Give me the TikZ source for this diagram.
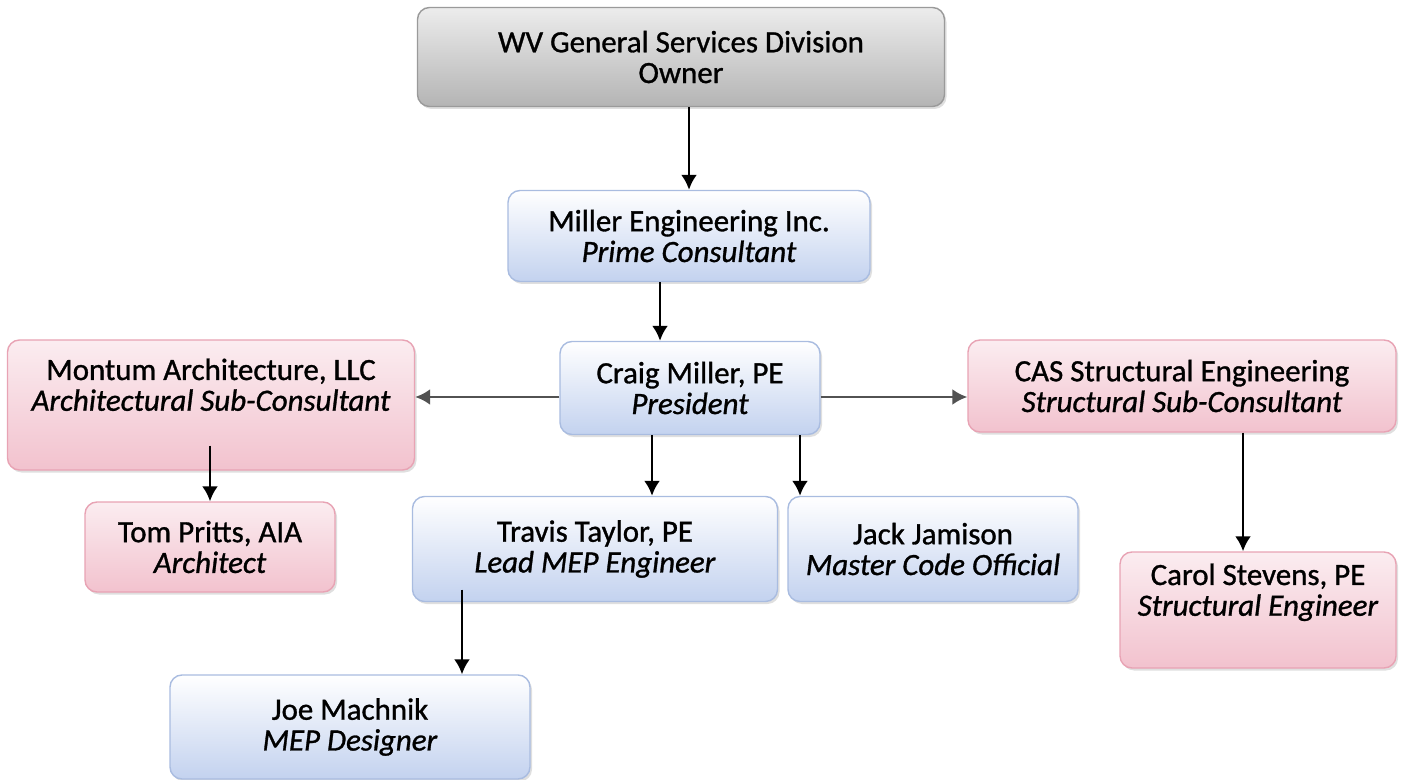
\documentclass[tikz,border=0pt]{standalone}
\usepackage{fontspec}
\setmainfont{Carlito}[FakeBold=1]
\usetikzlibrary{arrows.meta,shadows}
\definecolor{blueedge}{HTML}{A9BCE0}
\definecolor{bluebot}{HTML}{C3D2EF}
\definecolor{pinkedge}{HTML}{E8A3B4}
\definecolor{pinkbot}{HTML}{F2C2CE}
\definecolor{grayedge}{HTML}{9A9A9A}
\definecolor{graybot}{HTML}{B4B4B4}

\begin{document}
\begin{tikzpicture}[
    box/.style={rounded corners=0.24cm, align=center, line width=0.8pt,
        font=\fontsize{17.6}{17.5}\selectfont,
        drop shadow={shadow xshift=0.04cm, shadow yshift=-0.05cm, opacity=0.25}},
    bluebox/.style={box, draw=blueedge, top color=white, bottom color=bluebot},
    pinkbox/.style={box, draw=pinkedge, top color=white!70!pinkbot, bottom color=pinkbot},
    graybox/.style={box, draw=grayedge, top color=white!75!graybot, bottom color=graybot},
    arr/.style={line width=1.5pt, -{Latex[length=3mm,width=3.2mm]}},
    grayarr/.style={arr, draw=black!68, color=black!68}]
    \useasboundingbox (0,0) rectangle (28.12,15.58);
    % boxes
    \node[graybox, minimum width=10.54cm, minimum height=1.98cm] (owner) at (13.62,14.44)
        {WV General Services Division\\Owner};
    \node[bluebox, minimum width=7.24cm, minimum height=1.82cm] (miller) at (13.78,10.86)
        {Miller Engineering Inc.\\\textit{Prime Consultant}};
    \node[bluebox, minimum width=5.2cm, minimum height=1.86cm] (craig) at (13.80,7.82)
        {Craig Miller, PE\\\textit{President}};
    \node[pinkbox, minimum width=8.14cm, minimum height=2.6cm] (montum) at (4.22,7.48)
        {Montum Architecture, LLC\\\textit{Architectural Sub-Consultant}\\[0.2cm]};
    \node[pinkbox, minimum width=8.56cm, minimum height=1.84cm] (cas) at (23.64,7.86)
        {CAS Structural Engineering\\\textit{Structural Sub-Consultant}};
    \node[pinkbox, minimum width=5.0cm, minimum height=1.8cm] (tom) at (4.20,4.64)
        {Tom Pritts, AIA\\\textit{Architect}};
    \node[bluebox, minimum width=7.3cm, minimum height=2.1cm] (travis) at (11.90,4.60)
        {Travis Taylor, PE\\\textit{Lead MEP Engineer}};
    \node[bluebox, minimum width=5.8cm, minimum height=2.1cm] (jack) at (18.66,4.60)
        {Jack Jamison\\\textit{Master Code Official}};
    \node[pinkbox, minimum width=5.52cm, minimum height=2.32cm] (carol) at (25.16,3.38)
        {Carol Stevens, PE\\\textit{Structural Engineer}\\[0.2cm]};
    \node[bluebox, minimum width=7.2cm, minimum height=2.08cm] (joe) at (7.00,1.04)
        {Joe Machnik\\\textit{MEP Designer}};
    % connectors
    \draw[arr] (owner.south -| miller.north) -- (miller.north);
    \draw[arr] (miller.south -| 13.2,0) -- (craig.north -| 13.2,0);
    \draw[grayarr] ([yshift=-0.18cm]craig.west) -- ([yshift=-0.18cm]montum.east |- craig.west);
    \draw[grayarr] ([yshift=-0.18cm]craig.east) -- ([yshift=-0.18cm]cas.west |- craig.east);
    \draw[arr] (craig.south -| 13.04,0) -- (travis.north -| 13.04,0);
    \draw[arr] (craig.south -| 16.0,0) -- (jack.north -| 16.0,0);
    \draw[arr] ([yshift=0.5cm]montum.south -| tom.north) -- (tom.north);
    \draw[arr] (cas.south -| 24.86,0) -- (carol.north -| 24.86,0);
    \draw[arr] ([yshift=0.25cm]travis.south -| 9.24,0) -- (joe.north -| 9.24,0);
\end{tikzpicture}
\end{document}
